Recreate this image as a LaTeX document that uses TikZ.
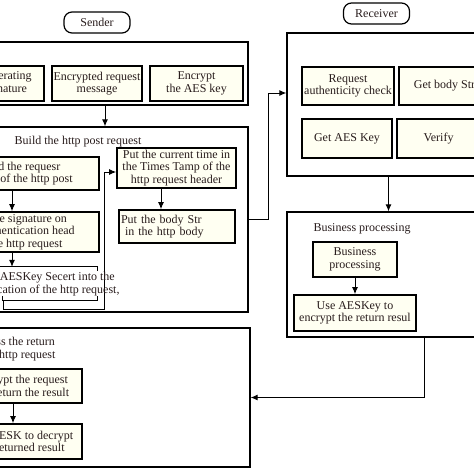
\documentclass[tikz,border=0pt]{standalone}
\usepackage{fontspec}
\setmainfont{Liberation Serif}
\usetikzlibrary{arrows.meta}
\definecolor{cream}{RGB}{255,255,242}
\definecolor{ink}{RGB}{40,28,28}
\begin{document}
\begin{tikzpicture}[x=1pt,y=-1pt,font=\fontsize{12}{12.5}\selectfont,text=ink,
  frame/.style={draw,line width=1.3pt,inner sep=0pt},
  box/.style={draw,line width=1.6pt,fill=cream,align=center,inner sep=0pt},
  tag/.style={draw,line width=1.2pt,rounded corners=8pt,minimum width=66,minimum height=21,inner sep=0pt},
  arr/.style={-{Latex[length=7pt,width=6pt]},line width=1pt}]
  \useasboundingbox (0,0) rectangle (474,474);
  % sender side
  \node[tag] (sender) at (97,22.5) {Sender};
  \node[frame,minimum width=253,minimum height=63] (sendbox) at (121.5,73.5) {};
  \node[box,minimum width=78,minimum height=35] (gen) at (5,83.5) {Generating\\signature};
  \node[box,minimum width=90,minimum height=35] (enc) at (97,83.5) {Encrypted request\\message};
  \node[box,minimum width=93,minimum height=35] (enckey) at (196.5,83.5) {Encrypt\\the AES key};
  \node[frame,minimum width=253,minimum height=185] (buildbox) at (121.5,219.5) {};
  \draw[arr] ([xshift=-16.5]sendbox.south) -- ([xshift=-16.5]buildbox.north);
  \node (buildlbl) at (78,142) {Build the http post request};
  \node[box,minimum width=160,minimum height=33] (head) at (19,173.5) {Build the requesr\\header of the http post};
  \node[box,minimum width=160,minimum height=40] (sign) at (19,232) {Put the signature on\\the authentication head\\of the http request};
  \node[minimum width=158,minimum height=33,inner sep=0pt] (aesbox) at (18,283.5) {};
  \draw[line width=1.3pt] (aesbox.north west) -- (aesbox.north east) -- ++(0,4);
  \draw[line width=1.3pt] ([xshift=64,yshift=4]aesbox.south west) -- ([xshift=64]aesbox.south west) -- (aesbox.south east) -- ++(0,-4);
  \draw[arr] ([xshift=-7]head.south) -- ([xshift=-7]sign.north);
  \draw[arr] ([xshift=-7]sign.south) -- ([xshift=-6]aesbox.north);
  \node[box,minimum width=119,minimum height=40] (time) at (176.5,168) {Put the current time in\\the Times Tamp of the\\http request header};
  \node[box,text width=112,minimum height=33,align=left,inner xsep=2pt] (body) at (177,226.5) {Put the body Str\\\ in the http body};
  \draw[arr] ([xshift=-15.5]time.south) -- ([xshift=-16]body.north);
  \draw[arr] ([xshift=65]aesbox.south west) -- ++(0,9) -- ++(101,0) |- ([yshift=-4]time.west);
  \node[align=center,inner sep=0pt] (aes) at (39,284) {Put the AESKey Secert into the\\authentication of the http request,};
  % receiver side
  \node[tag] (receiver) at (376.5,13.5) {Receiver};
  \node[frame,minimum width=203,minimum height=143] (recvbox) at (388.5,104.5) {};
  \node[box,minimum width=92,minimum height=38] (check) at (348,86) {Request\\authenticity check};
  \node[box,minimum width=91,minimum height=38] (getbody) at (444.5,86) {Get body Str};
  \node[box,minimum width=90,minimum height=39] (getkey) at (347,138.5) {Get AES Key};
  \node[box,minimum width=83,minimum height=39] (verify) at (438.5,138.5) {Verify};
  \draw[arr] (buildbox.east) -- ++(20,0) |- ([yshift=11.5]recvbox.west);
  \node[frame,minimum width=203,minimum height=125] (busbox) at (388.5,274.5) {};
  \draw[arr] (recvbox.south) -- (busbox.north);
  \node (buslbl) at (362,229) {Business processing};
  \node[box,minimum width=84,minimum height=35] (bp) at (355,259.5) {Business\\processing};
  \node[box,minimum width=122,minimum height=36] (useaes) at (355,313) {Use AESKey to\\encrypt the return resul};
  \draw[arr] (bp.south) -- (useaes.north);
  % return
  \node[frame,minimum width=255,minimum height=139] (retbox) at (122.5,397.5) {};
  \draw[arr] ([xshift=35.5]busbox.south) |- (retbox.east);
  \node[align=center] (retlbl) at (12,349) {Process the return\\of the http request};
  \node[box,minimum width=122,minimum height=34] (decrypt) at (21,386) {Decrypt the request\\and return the result};
  \node[box,minimum width=122,minimum height=35] (useesk) at (21,441.5) {Use AESK to decrypt\\the returned result};
  \draw[arr] ([xshift=-8]decrypt.south) -- ([xshift=-8]useesk.north);
\end{tikzpicture}
\end{document}
